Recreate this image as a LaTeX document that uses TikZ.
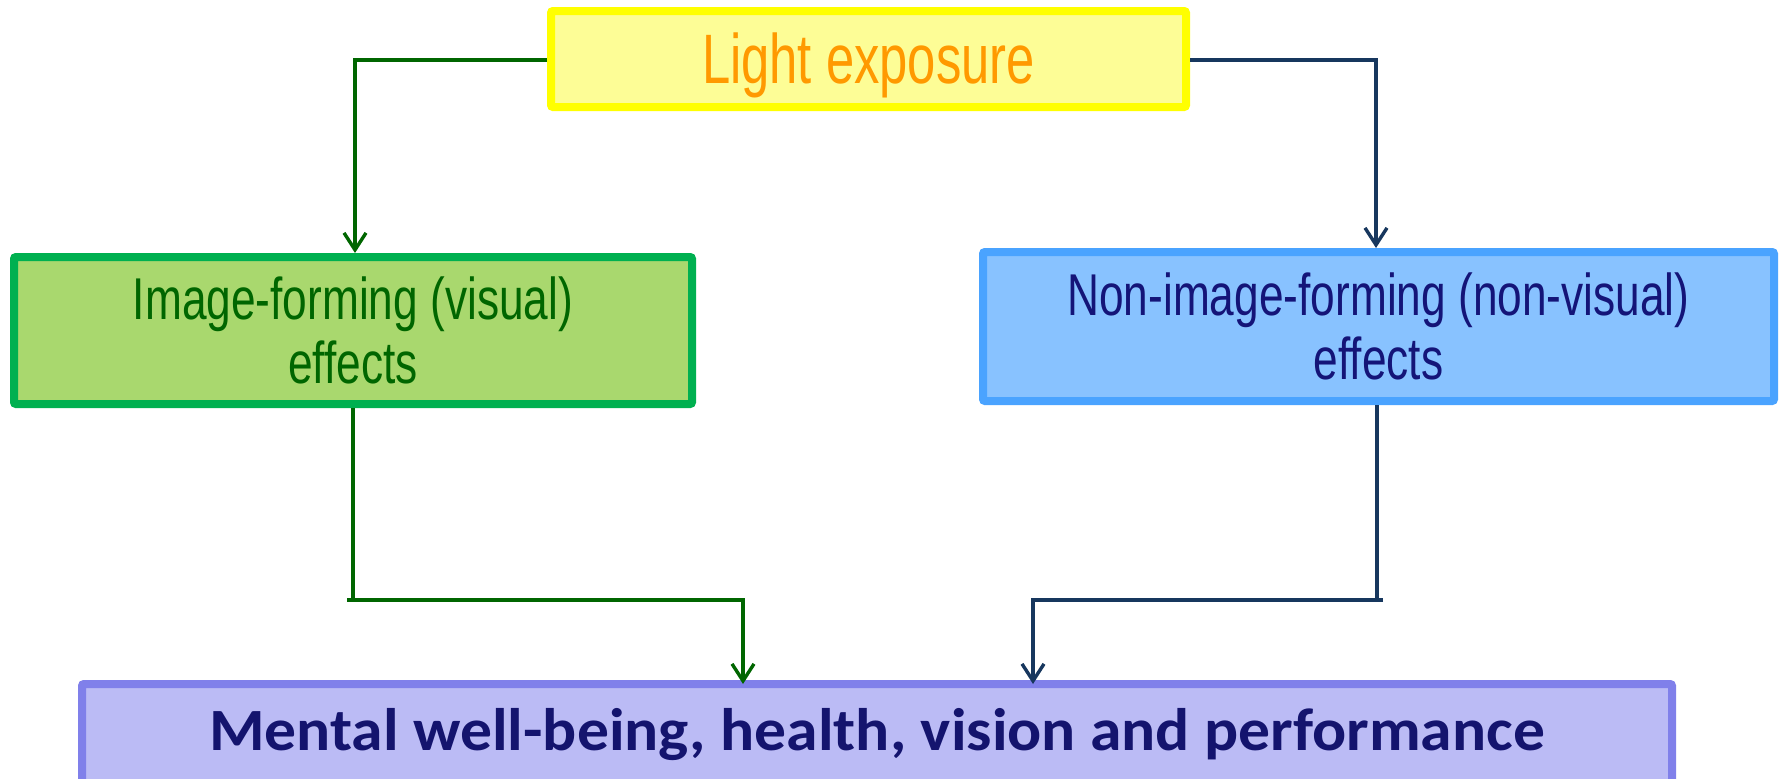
\documentclass[tikz,border=0pt]{standalone}
\usepackage{fontspec}
\setmainfont{Liberation Sans}
\newfontfamily\condA{Liberation Sans}[FakeStretch=0.725]
\newfontfamily\condB{Liberation Sans}[FakeStretch=0.75]
\newfontfamily\calib{Carlito}[FakeStretch=1.06]
\usetikzlibrary{arrows.meta}
\definecolor{topfill}{HTML}{FDFD96}
\definecolor{topdraw}{HTML}{FFFF00}
\definecolor{toptext}{HTML}{FF9900}
\definecolor{grfill}{HTML}{A9D86E}
\definecolor{grdraw}{HTML}{00B050}
\definecolor{grtext}{HTML}{006600}
\definecolor{blfill}{HTML}{88C2FF}
\definecolor{bldraw}{HTML}{4AA3FF}
\definecolor{bltext}{HTML}{141478}
\definecolor{btfill}{HTML}{BBBBF5}
\definecolor{btdraw}{HTML}{8080EA}
\definecolor{bttext}{HTML}{14146E}
\definecolor{navy}{HTML}{17375E}
\tikzset{
  box/.style={draw, line width=8pt, rounded corners=2pt, inner sep=0pt, align=center},
  conn/.style={line width=3.4pt},
  arr/.style={conn, -{Straight Barb[length=17pt,width=22pt]}},
}
\begin{document}
\begin{tikzpicture}[x=1pt,y=-1pt]
\useasboundingbox (0,0) rectangle (1783,779);
\node[box, fill=topfill, draw=topdraw, text=toptext, minimum width=635pt, minimum height=96pt,
      text height=50pt, text depth=2pt, font=\condA\fontsize{70}{80}\selectfont]
  (top) at (868.5,59) {Light exposure};
\node[box, fill=grfill, draw=grdraw, text=grtext, minimum width=678pt, minimum height=147pt,
      font=\condB\fontsize{59}{64}\selectfont]
  (green) at (353,330.5) {Image-forming (visual)\\effects};
\node[box, fill=blfill, draw=bldraw, text=bltext, minimum width=791pt, minimum height=149pt,
      font=\condB\fontsize{59}{64}\selectfont]
  (blue) at (1378.5,326.5) {Non-image-forming (non-visual)\\effects};
\node[box, fill=btfill, draw=btdraw, text=bttext, minimum width=1590pt, minimum height=99pt,
      text height=38pt, text depth=5pt, font=\calib\bfseries\fontsize{60}{70}\selectfont]
  (bottom) at (877,733.5) {Mental well-being, health, vision and performance};
% top connectors
\coordinate (gc1) at (355,60);
\coordinate (bc1) at (1376,60);
\draw[arr, grtext] (top.west |- gc1) -- (gc1) -- (gc1 |- green.north);
\draw[arr, navy] (top.east |- bc1) -- (bc1) -- (bc1 |- blue.north);
% bottom connectors
\coordinate (gd) at (353,600);
\coordinate (gl) at (347,600);
\coordinate (gr) at (743,600);
\draw[conn, grtext] (gd |- green.south) -- (gd);
\draw[arr, grtext, shorten >=-4pt] (gl) -- (gr) -- (gr |- bottom.north);
\coordinate (bd) at (1377,600);
\coordinate (brr) at (1383,600);
\coordinate (bl) at (1033,600);
\draw[conn, navy] (bd |- blue.south) -- (bd);
\draw[arr, navy, shorten >=-4pt] (brr) -- (bl) -- (bl |- bottom.north);
\end{tikzpicture}
\end{document}
